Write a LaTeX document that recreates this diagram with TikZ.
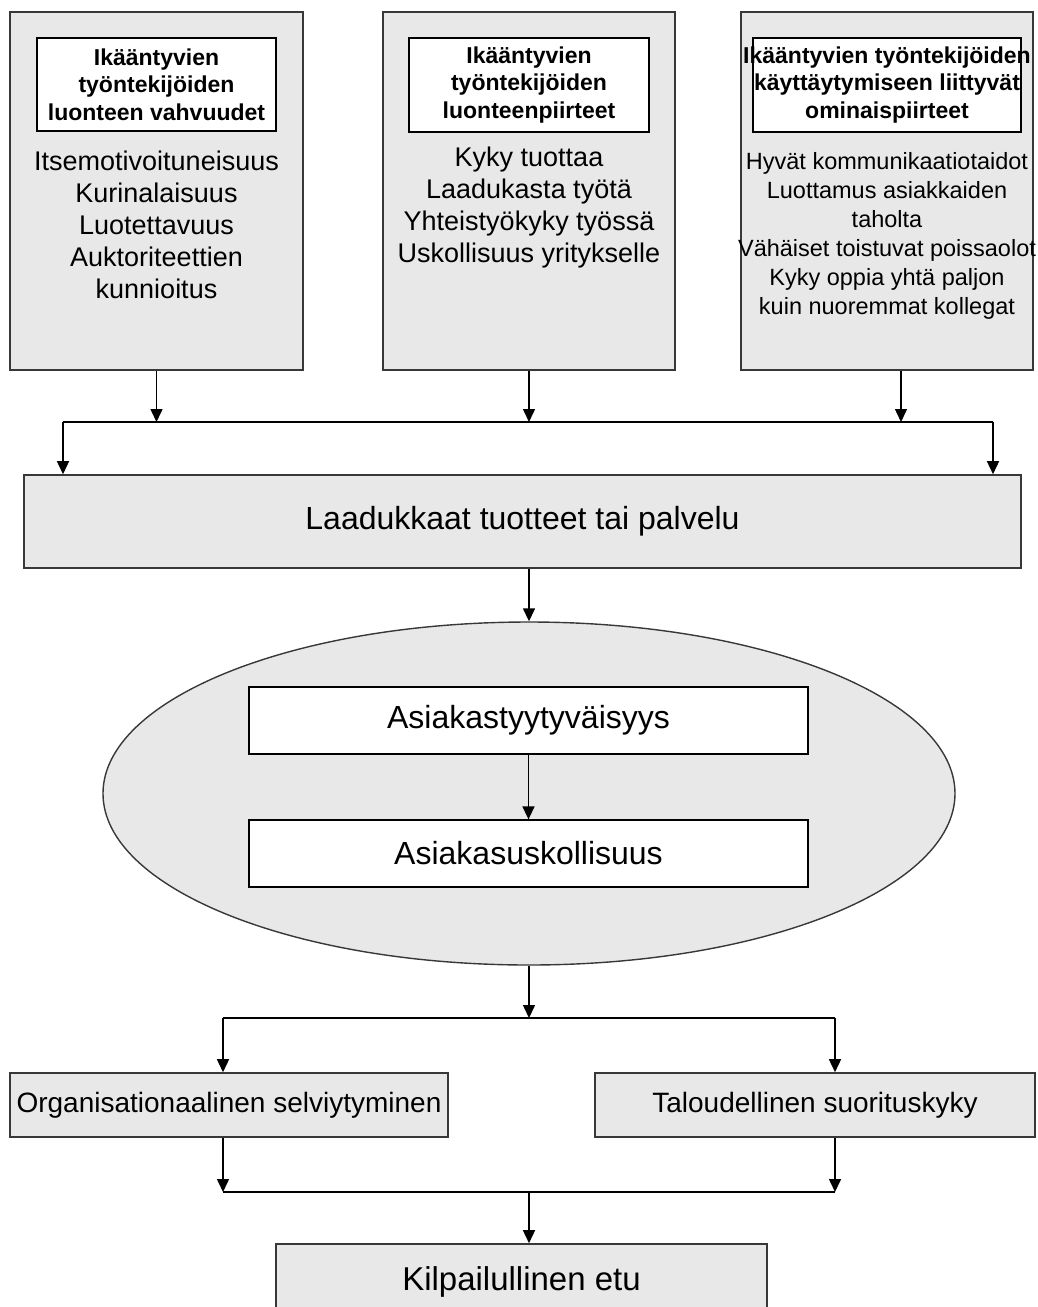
\documentclass[tikz,border=0pt]{standalone}
\usepackage{fontspec}
\setmainfont{Liberation Sans}
\usetikzlibrary{shapes.geometric,arrows.meta}
\tikzset{
  box/.style={draw=black!78, line width=1.6pt, fill=black!9, inner sep=0pt},
  inbox/.style={draw=black, line width=1.3pt, fill=white, inner sep=0pt},
  head/.style={inbox, align=center, inner xsep=-15pt, font=\fontsize{23}{27.5}\selectfont\bfseries},
  lst/.style={align=center, inner sep=0pt, font=\fontsize{27}{32}\selectfont},
  conn/.style={line width=1.5pt, black},
  arr/.style={conn, -{Triangle[width=12pt,length=13pt]}}
}
\begin{document}
\begin{tikzpicture}[x=1pt,y=-1pt]
\useasboundingbox (0,0) rectangle (1037,1307);

\node[box, minimum width=293pt, minimum height=358pt] (b1) at (156.5,191) {};
\node[box, minimum width=292pt, minimum height=358pt] (b2) at (529,191) {};
\node[box, minimum width=292pt, minimum height=358pt] (b3) at (887,191) {};

\node[head, minimum width=239pt, minimum height=93pt] (h1) at (156.5,84.5) {Ikääntyvien\\työntekijöiden\\luonteen vahvuudet};
\node[head, minimum width=240pt, minimum height=94pt] (h2) at (529,85) {Ikääntyvien\\työntekijöiden\\luonteenpiirteet};
\node[head, minimum width=268pt, minimum height=94pt] (h3) at (887,85) {Ikääntyvien työntekijöiden\\käyttäytymiseen liittyvät\\ominaispiirteet};

\node[lst] (l1) at (156.5,225) {Itsemotivoituneisuus\\Kurinalaisuus\\Luotettavuus\\Auktoriteettien\\kunnioitus};
\node[lst] (l2) at (529,208) {Kyky tuottaa\\Laadukasta työtä\\Yhteistyökyky työssä\\Uskollisuus yritykselle};
\node[lst, font=\fontsize{23.5}{29}\selectfont] (l3) at (887,236) {Hyvät kommunikaatiotaidot\\Luottamus asiakkaiden\\taholta\\Vähäiset toistuvat poissaolot\\Kyky oppia yhtä paljon\\kuin nuoremmat kollegat};

\node[box, minimum width=997pt, minimum height=93pt, font=\fontsize{32}{38}\selectfont] (m) at (522.5,521.5) {Laadukkaat tuotteet tai palvelu};

\node[box, ellipse, line width=1.4pt, minimum width=852pt, minimum height=343pt] (e) at (529,793.5) {};
\node[inbox, minimum width=559pt, minimum height=67pt, font=\fontsize{32}{38}\selectfont] (a1) at (528.5,720.5) {Asiakastyytyväisyys};
\node[inbox, minimum width=559pt, minimum height=67pt, font=\fontsize{32}{38}\selectfont] (a2) at (528.5,853.5) {Asiakasuskollisuus};

\node[box, minimum width=438pt, minimum height=64pt, font=\fontsize{28}{33}\selectfont] (o1) at (229,1105) {Organisationaalinen selviytyminen};
\node[box, minimum width=440pt, minimum height=64pt, font=\fontsize{28}{33}\selectfont] (o2) at (815,1105) {Taloudellinen suorituskyky};

\node[box, minimum width=491pt, minimum height=76pt, font=\fontsize{33}{40}\selectfont] (k) at (521.5,1282) {Kilpailullinen etu};

\coordinate (tl) at (63,422);
\coordinate (tr) at (993,422);
\coordinate (sl) at (223,1018);
\coordinate (sr) at (835,1018);
\coordinate (ml) at (223,1192);
\coordinate (mr) at (835,1192);

\draw[conn] (tl) -- (tr);
\draw[arr] (b1.south) -- (b1.south |- tl);
\draw[arr] (b2.south) -- (b2.south |- tl);
\draw[arr] ([xshift=14pt]b3.south) -- ([xshift=14pt]b3.south |- tl);
\draw[arr] (tl) -- (tl |- m.north);
\draw[arr] (tr) -- (tr |- m.north);

\draw[arr] (m.south -| e.north) -- (e.north);
\draw[arr] (a1) -- (a2);

\draw[conn] (sl) -- (sr);
\draw[arr] (e.south) -- (e.south |- sl);
\draw[arr] (sl) -- (sl |- o1.north);
\draw[arr] (sr) -- (sr |- o2.north);

\draw[conn] (ml) -- (mr);
\draw[arr] (sl |- o1.south) -- (ml);
\draw[arr] (sr |- o2.south) -- (mr);
\draw[arr] (e.south |- ml) -- (e.south |- k.north);
\end{tikzpicture}
\end{document}
